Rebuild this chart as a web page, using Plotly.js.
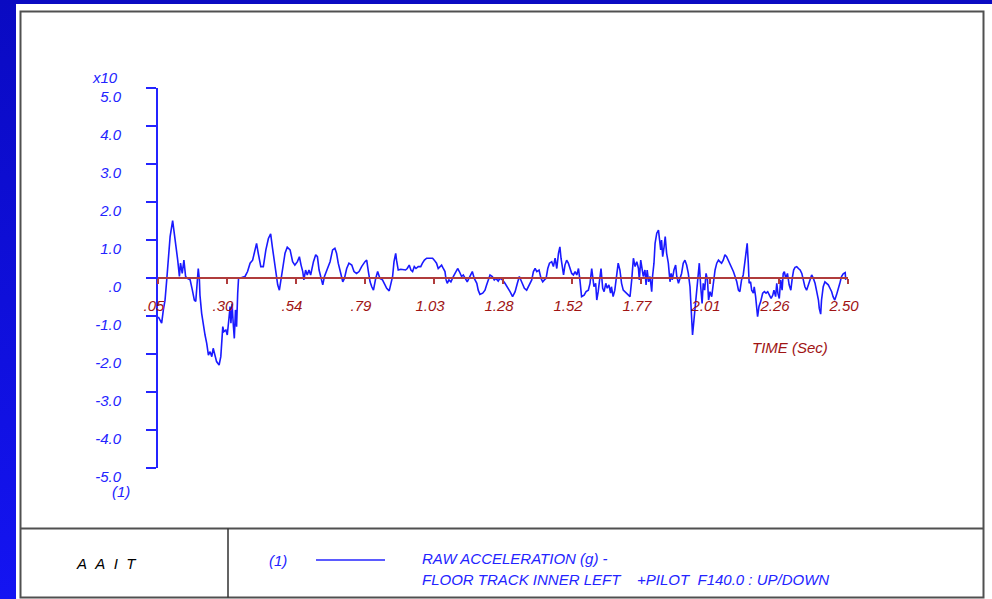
<!DOCTYPE html>
<html>
<head>
<meta charset="utf-8">
<script src="https://cdn.plot.ly/plotly-3.0.1.min.js"></script>
<style>
html,body{margin:0;padding:0;width:992px;height:599px;overflow:hidden;background:linear-gradient(to bottom,#0a0ac2,#1414f2);}
#chart{width:992px;height:599px;}
</style>
</head>
<body>
<div id="chart"></div>
<script>
// time (s)
const timeSec = [
0.051,0.063,0.069,0.075,0.081,0.087,0.093,0.102,0.107,0.114,
0.120,0.126,0.130,0.136,0.142,0.148,0.154,0.164,0.172,0.179,
0.184,0.190,0.193,0.197,0.199,0.205,0.211,0.217,0.223,0.229,
0.235,0.241,0.246,0.252,0.258,0.267,0.273,0.280,0.284,0.291,
0.296,0.302,0.306,0.309,0.313,0.317,0.321,0.325,0.329,0.333,
0.336,0.347,0.359,0.368,0.377,0.386,0.394,0.400,0.406,0.415,
0.424,0.433,0.442,0.450,0.456,0.462,0.469,0.475,0.481,0.487,
0.493,0.501,0.509,0.519,0.528,0.536,0.545,0.552,0.558,0.564,
0.568,0.574,0.580,0.586,0.592,0.602,0.610,0.616,0.622,0.628,
0.635,0.641,0.647,0.655,0.661,0.670,0.678,0.684,0.690,0.699,
0.706,0.712,0.720,0.728,0.738,0.746,0.755,0.764,0.773,0.785,
0.791,0.797,0.803,0.809,0.815,0.823,0.830,0.838,0.847,0.856,
0.862,0.871,0.877,0.883,0.888,0.894,0.897,0.903,0.912,0.921,
0.929,0.935,0.942,0.948,0.954,0.960,0.966,0.974,0.983,0.989,
0.996,1.004,1.016,1.025,1.031,1.039,1.045,1.051,1.057,1.063,
1.069,1.073,1.077,1.083,1.090,1.099,1.108,1.114,1.120,1.128,
1.134,1.140,1.148,1.154,1.161,1.166,1.173,1.182,1.187,1.193,
1.203,1.211,1.217,1.223,1.229,1.237,1.244,1.250,1.258,1.264,
1.273,1.282,1.290,1.300,1.309,1.318,1.326,1.333,1.341,1.351,
1.359,1.368,1.377,1.383,1.389,1.395,1.403,1.410,1.416,1.422,
1.428,1.434,1.440,1.448,1.454,1.460,1.466,1.472,1.477,1.481,
1.486,1.490,1.495,1.501,1.507,1.513,1.519,1.525,1.531,1.537,
1.543,1.548,1.554,1.563,1.570,1.578,1.584,1.590,1.593,1.598,
1.604,1.608,1.613,1.619,1.623,1.629,1.634,1.640,1.645,1.651,
1.657,1.660,1.666,1.672,1.678,1.684,1.690,1.696,1.702,1.708,
1.714,1.720,1.726,1.732,1.738,1.744,1.750,1.756,1.759,1.764,
1.768,1.773,1.779,1.783,1.787,1.792,1.797,1.803,1.806,1.811,
1.815,1.821,1.827,1.830,1.835,1.838,1.842,1.847,1.851,1.856,
1.862,1.868,1.872,1.876,1.882,1.888,1.892,1.898,1.903,1.909,
1.915,1.921,1.927,1.933,1.939,1.943,1.946,1.948,1.953,1.958,
1.963,1.969,1.972,1.977,1.982,1.986,1.991,1.996,2.001,2.005,
2.010,2.016,2.022,2.028,2.034,2.040,2.045,2.051,2.057,2.063,
2.069,2.075,2.081,2.087,2.093,2.099,2.105,2.111,2.116,2.122,
2.128,2.134,2.138,2.142,2.146,2.149,2.154,2.158,2.164,2.167,
2.172,2.175,2.179,2.184,2.190,2.197,2.203,2.209,2.215,2.221,
2.227,2.233,2.237,2.243,2.247,2.251,2.256,2.261,2.266,2.270,
2.274,2.279,2.285,2.291,2.297,2.302,2.307,2.312,2.318,2.324,
2.330,2.336,2.342,2.347,2.353,2.359,2.365,2.371,2.377,2.383,
2.389,2.395,2.398,2.403,2.406,2.412,2.418,2.424,2.430,2.436,
2.442,2.447,2.453,2.459,2.465,2.471,2.477,2.483,2.490,2.492
];
// raw acceleration (g)
const accelG = [
-10.2,-11.9,-8.4,-5.8,-0.5,4.7,10.9,15.1,12.6,8.2,
4.7,0.4,3.9,1.2,4.7,0.4,-0.1,-0.5,-3.2,-5.8,
-6.2,0.4,2.5,-0.5,-4.5,-9.3,-12.8,-15.0,-17.2,-20.3,
-19.4,-20.7,-18.5,-20.7,-22.0,-22.9,-20.7,-12.8,-14.1,-13.7,
-15.0,-10.6,-7.5,-11.9,-6.7,-11.9,-15.9,-8.4,-12.8,-4.0,
-0.1,0.1,0.4,1.7,3.9,4.7,6.9,9.1,6.5,3.0,
3.0,7.4,10.4,11.6,8.2,4.7,0.4,-1.8,-3.2,-0.5,
2.1,6.5,8.1,7.4,4.3,3.4,4.3,5.6,3.4,1.7,
-0.5,2.1,0.8,2.1,0.8,4.3,6.1,5.6,2.1,0.4,
-1.8,0.4,1.7,3.0,4.3,7.4,7.8,6.5,3.9,1.2,
-1.0,-0.1,2.5,3.9,3.4,1.7,1.2,1.7,3.0,4.3,
4.7,1.7,-1.0,-2.3,-3.2,-0.1,1.7,-0.1,-0.5,-1.8,
-2.7,-3.4,-1.4,0.4,4.3,6.5,4.7,2.1,2.3,2.1,
2.1,2.5,3.4,2.1,1.7,3.0,2.5,3.0,3.0,3.9,
4.7,5.2,5.2,5.2,4.7,3.9,2.5,3.0,3.4,2.5,
1.7,-0.5,-1.4,-0.5,-1.0,0.4,1.7,2.5,1.7,0.4,
0.8,-0.1,-1.0,-0.1,0.8,1.7,-0.1,-1.4,-3.2,-4.3,
-4.0,-3.2,-1.8,-0.5,0.8,0.4,-0.5,-0.1,-0.8,-0.1,
-0.5,-1.4,-2.3,-3.6,-4.9,-3.6,-1.4,0.4,-1.0,-2.7,
-3.2,-1.8,-0.5,1.7,2.5,1.7,2.1,-0.1,-1.0,-0.5,
-0.1,2.5,3.9,4.3,3.0,5.2,2.5,6.5,8.2,5.2,
2.5,0.8,3.4,4.7,3.9,2.5,1.2,0.8,1.7,0.8,
2.5,-0.5,-4.9,-4.5,-3.6,-3.2,-1.4,2.5,-0.1,-2.3,
-1.4,-5.8,-3.6,-0.1,2.5,-2.7,-3.6,-1.4,-2.7,-1.8,
-4.0,-2.3,-4.9,-3.2,0.4,3.9,2.1,-1.4,-3.2,-3.6,
-4.0,-4.5,-4.9,-0.5,5.2,3.0,4.3,2.5,-0.5,4.7,
2.1,0.4,2.1,-1.8,2.1,-1.0,0.4,-3.6,0.4,3.9,
9.1,11.8,12.6,10.9,7.4,10.0,5.6,8.2,10.9,6.5,
3.9,-1.0,1.2,-0.5,2.1,3.4,0.4,-1.4,-0.1,1.2,
3.9,4.7,3.4,1.2,-2.3,-7.5,-12.8,-15.0,-11.1,-7.5,
-4.0,0.4,3.9,-2.3,-6.7,-1.4,-3.2,1.2,-0.5,-5.8,
-3.6,-4.9,-0.5,2.1,3.9,4.7,4.3,3.9,4.7,6.1,
5.6,4.7,3.9,3.0,1.7,0.4,-1.0,-3.2,-3.6,-0.5,
0.8,4.3,6.9,9.1,3.9,-1.4,-1.0,-3.2,-4.0,-2.3,
-4.9,-8.4,-10.2,-7.5,-6.2,-4.0,-3.6,-4.0,-3.6,-4.5,
-5.4,-4.5,-3.2,-4.9,-1.4,-4.0,-5.4,-0.5,-3.2,1.2,
1.7,-0.1,1.2,-1.8,-3.2,-0.1,2.1,2.8,3.0,2.5,
2.1,1.2,-0.5,-2.3,-3.2,-1.8,-0.1,0.8,-0.1,-1.4,
-3.6,-5.8,-8.0,-9.5,-5.8,-2.3,-1.0,-1.4,-1.8,-2.7,
-3.6,-4.9,-5.8,-4.5,-3.2,-1.4,0.4,1.1,1.4,-0.5
];
const xTickVals = [0.05,0.295,0.54,0.785,1.03,1.275,1.52,1.765,2.01,2.255,2.50];
const xTickText = ['.05','.30','.54','.79','1.03','1.28','1.52','1.77','2.01','2.26','2.50'];
const yTickVals = [-50,-40,-30,-20,-10,0,10,20,30,40,50];
const yTickText = ['-5.0','-4.0','-3.0','-2.0','-1.0','.0','1.0','2.0','3.0','4.0','5.0'];

// pixel -> paper helpers (plot area: x 158..848, y 88..468)
const L = 158, R = 848, T = 88, B = 468;
const px = v => (v - L) / (R - L);
const py = v => (B - v) / (B - T);

const FONT = 'Liberation Sans, Arial, sans-serif';
const FS = 15;
const BLUE = '#2424ff';
const DRED = '#a01414';
const NB = '\u00a0';

const trace = {
  x: timeSec, y: accelG, type: 'scatter', mode: 'lines',
  line: {color: '#1a1aff', width: 1.6}, hoverinfo: 'skip'
};

const shapes = [
  {type:'rect', xref:'paper', yref:'paper', x0:px(16), x1:px(992), y0:py(4), y1:py(599), fillcolor:'#ffffff', line:{width:0}, layer:'below'},
  {type:'rect', xref:'paper', yref:'paper', x0:px(20.5), x1:px(983.5), y0:py(11.5), y1:py(597.5), line:{color:'#505050', width:2}, layer:'below'},
  {type:'line', xref:'paper', yref:'paper', x0:px(20.5), x1:px(983.5), y0:py(528.5), y1:py(528.5), line:{color:'#505050', width:2}},
  {type:'line', xref:'paper', yref:'paper', x0:px(228), x1:px(228), y0:py(528.5), y1:py(597.5), line:{color:'#303030', width:1.5}},
  {type:'line', xref:'paper', yref:'paper', x0:px(316), x1:px(385), y0:py(560), y1:py(560), line:{color:BLUE, width:1.5}}
];

const ann = (text, x, y, color, xanchor) => ({
  text: text, xref:'paper', yref:'paper', x: px(x), y: py(y),
  xanchor: xanchor || 'center', yanchor:'middle', showarrow:false,
  font:{family:FONT, size:FS, color:color, style:'italic'}
});

const annotations = [
  ann('x10', 105, 78, BLUE),
  ann('(1)', 121, 491, BLUE),
  ann('TIME' + NB + '(Sec)', 790, 347, DRED),
  ann('A' + NB+NB + 'A' + NB+NB + 'I' + NB+NB + 'T', 106, 563, '#000000'),
  ann('(1)', 278, 560, BLUE),
  ann('RAW ACCELERATION (g) -', 420, 558, BLUE, 'left'),
  ann('FLOOR TRACK INNER LEFT' + NB+NB+NB+NB + '+PILOT' + NB+NB + 'F140.0 : UP/DOWN', 420, 579, BLUE, 'left')
];

const layout = {
  width: 992, height: 599,
  margin: {l: L, r: 992 - R, t: T, b: 599 - B, pad: 0},
  paper_bgcolor: 'rgba(0,0,0,0)',
  plot_bgcolor: 'rgba(0,0,0,0)',
  showlegend: false,
  xaxis: {
    range: [0.05, 2.50], anchor: 'free', position: 0.5,
    showgrid: false, zeroline: false,
    showline: true, linecolor: '#b03c3c', linewidth: 2,
    ticks: 'outside', ticklen: 5, tickwidth: 1.5, tickcolor: '#b03c3c',
    tickvals: xTickVals, ticktext: xTickText,
    ticklabelstandoff: 9, ticklabelshift: -4,
    tickfont: {family: FONT, size: FS, color: DRED, style: 'italic'}
  },
  yaxis: {
    range: [-50, 50],
    showgrid: false, zeroline: false,
    showline: true, linecolor: BLUE, linewidth: 2,
    ticks: 'outside', ticklen: 10, tickwidth: 2, tickcolor: BLUE,
    tickvals: yTickVals, ticktext: yTickText,
    ticklabelstandoff: 22, ticklabelshift: 9,
    tickfont: {family: FONT, size: FS, color: BLUE, style: 'italic'}
  },
  shapes: shapes,
  annotations: annotations,
  hovermode: false
};

Plotly.newPlot('chart', [trace], layout, {staticPlot: true, displayModeBar: false});
</script>
</body>
</html>
